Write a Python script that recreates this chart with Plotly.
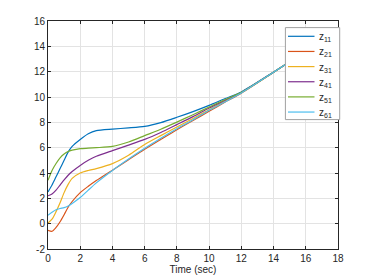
import plotly.graph_objects as go

t = [0, 0.25, 0.5, 0.75, 1, 1.25, 1.5, 2, 2.5, 3, 4, 5, 6, 7, 8, 9, 10, 11, 12, 14, 16, 18]

z11 = [2.5, 3.05, 3.7, 4.35, 5.0, 5.65, 6.1, 6.65, 7.1, 7.35, 7.47, 7.56, 7.68, 7.98, 8.4, 8.85, 9.34, 9.88, 10.4, 11.97, 13.6, 15.25]
z21 = [-0.52, -0.6, -0.3, 0.15, 0.7, 1.3, 1.75, 2.45, 2.95, 3.4, 4.22, 5.05, 5.87, 6.65, 7.42, 8.15, 8.87, 9.6, 10.3, 11.95, 13.6, 15.25]
z31 = [0.05, 0.35, 0.95, 1.65, 2.45, 3.1, 3.58, 4.0, 4.2, 4.35, 4.74, 5.4, 6.25, 6.95, 7.63, 8.3, 9.0, 9.68, 10.34, 11.95, 13.6, 15.25]
z41 = [2.2, 2.35, 2.65, 3.05, 3.45, 3.82, 4.12, 4.6, 5.0, 5.32, 5.77, 6.2, 6.65, 7.2, 7.82, 8.45, 9.13, 9.75, 10.36, 11.96, 13.6, 15.25]
z51 = [3.42, 4.2, 4.75, 5.2, 5.5, 5.7, 5.8, 5.92, 5.96, 6.0, 6.1, 6.45, 6.95, 7.45, 8.02, 8.6, 9.21, 9.8, 10.38, 11.96, 13.6, 15.25]
z61 = [0.66, 0.9, 1.1, 1.2, 1.27, 1.4, 1.6, 2.06, 2.65, 3.22, 4.2, 5.1, 5.95, 6.75, 7.5, 8.2, 8.95, 9.62, 10.32, 11.95, 13.6, 15.25]

names = ["z<sub>11</sub>", "z<sub>21</sub>", "z<sub>31</sub>", "z<sub>41</sub>", "z<sub>51</sub>", "z<sub>61</sub>"]
colors = ["#0072BD", "#D95319", "#EDB120", "#7E2F8E", "#77AC30", "#4DBEEE"]
series = [z11, z21, z31, z41, z51, z61]

x_ticks = [0, 2, 4, 6, 8, 10, 12, 14, 16, 18]
y_ticks = [-2, 0, 2, 4, 6, 8, 10, 12, 14, 16]

FONT = "Liberation Sans, Arial"
INK = "#262626"

fig = go.Figure()
for name, col, ys in zip(names, colors, series):
    fig.add_trace(go.Scatter(x=t, y=ys, mode="lines", name=name, showlegend=False,
                             line=dict(color=col, width=1.2, shape="spline", smoothing=0.7)))

axis_common = dict(
    showline=True, linecolor=INK, linewidth=1, mirror="ticks",
    ticks="inside", ticklen=3, tickcolor=INK,
    showgrid=True, gridcolor="#e3e3e3", gridwidth=1, zeroline=False,
    tickfont=dict(family=FONT, size=10, color=INK),
)

# Custom legend box (paper coordinates; plot area is 290 x 228 px)
PW, PH = 290.0, 228.0
def px_x(dx):  # offset in px from plot left -> paper
    return dx / PW
def px_y(dy):  # offset in px from plot top -> paper
    return 1 - dy / PH

shapes = [dict(type="rect", xref="paper", yref="paper",
               x0=px_x(237.4), x1=px_x(291.7), y0=px_y(98.6), y1=px_y(6.6),
               line=dict(color="#a0a0a0", width=1), fillcolor="white", layer="above")]
annotations = []
for i, (name, col) in enumerate(zip(names, colors)):
    cy = 15.3 + 15.15 * i
    shapes.append(dict(type="line", xref="paper", yref="paper",
                       x0=px_x(240), x1=px_x(266.5), y0=px_y(cy), y1=px_y(cy),
                       line=dict(color=col, width=1.2), layer="above"))
    annotations.append(dict(xref="paper", yref="paper", x=px_x(268.5), y=px_y(cy + 1),
                            text=name, showarrow=False, xanchor="left", yanchor="middle",
                            font=dict(family=FONT, size=10, color=INK)))

# page body has an 8px margin: compensate so the plot lands where the reference has it
fig.update_layout(
    width=366, height=272,
    margin=dict(l=40, r=36, t=13, b=31, autoexpand=False),
    paper_bgcolor="white", plot_bgcolor="white",
    font=dict(family=FONT, size=10, color=INK),
    xaxis=dict(range=[0, 18], tickvals=x_ticks, ticktext=[str(v) for v in x_ticks],
               title=dict(text="Time (sec)", standoff=2,
                          font=dict(family=FONT, size=10, color=INK)),
               **axis_common),
    yaxis=dict(range=[-2, 16], tickvals=y_ticks, ticktext=[str(v) for v in y_ticks], **axis_common),
    shapes=shapes,
    annotations=annotations,
    showlegend=False,
)

fig.write_html("out.html")
